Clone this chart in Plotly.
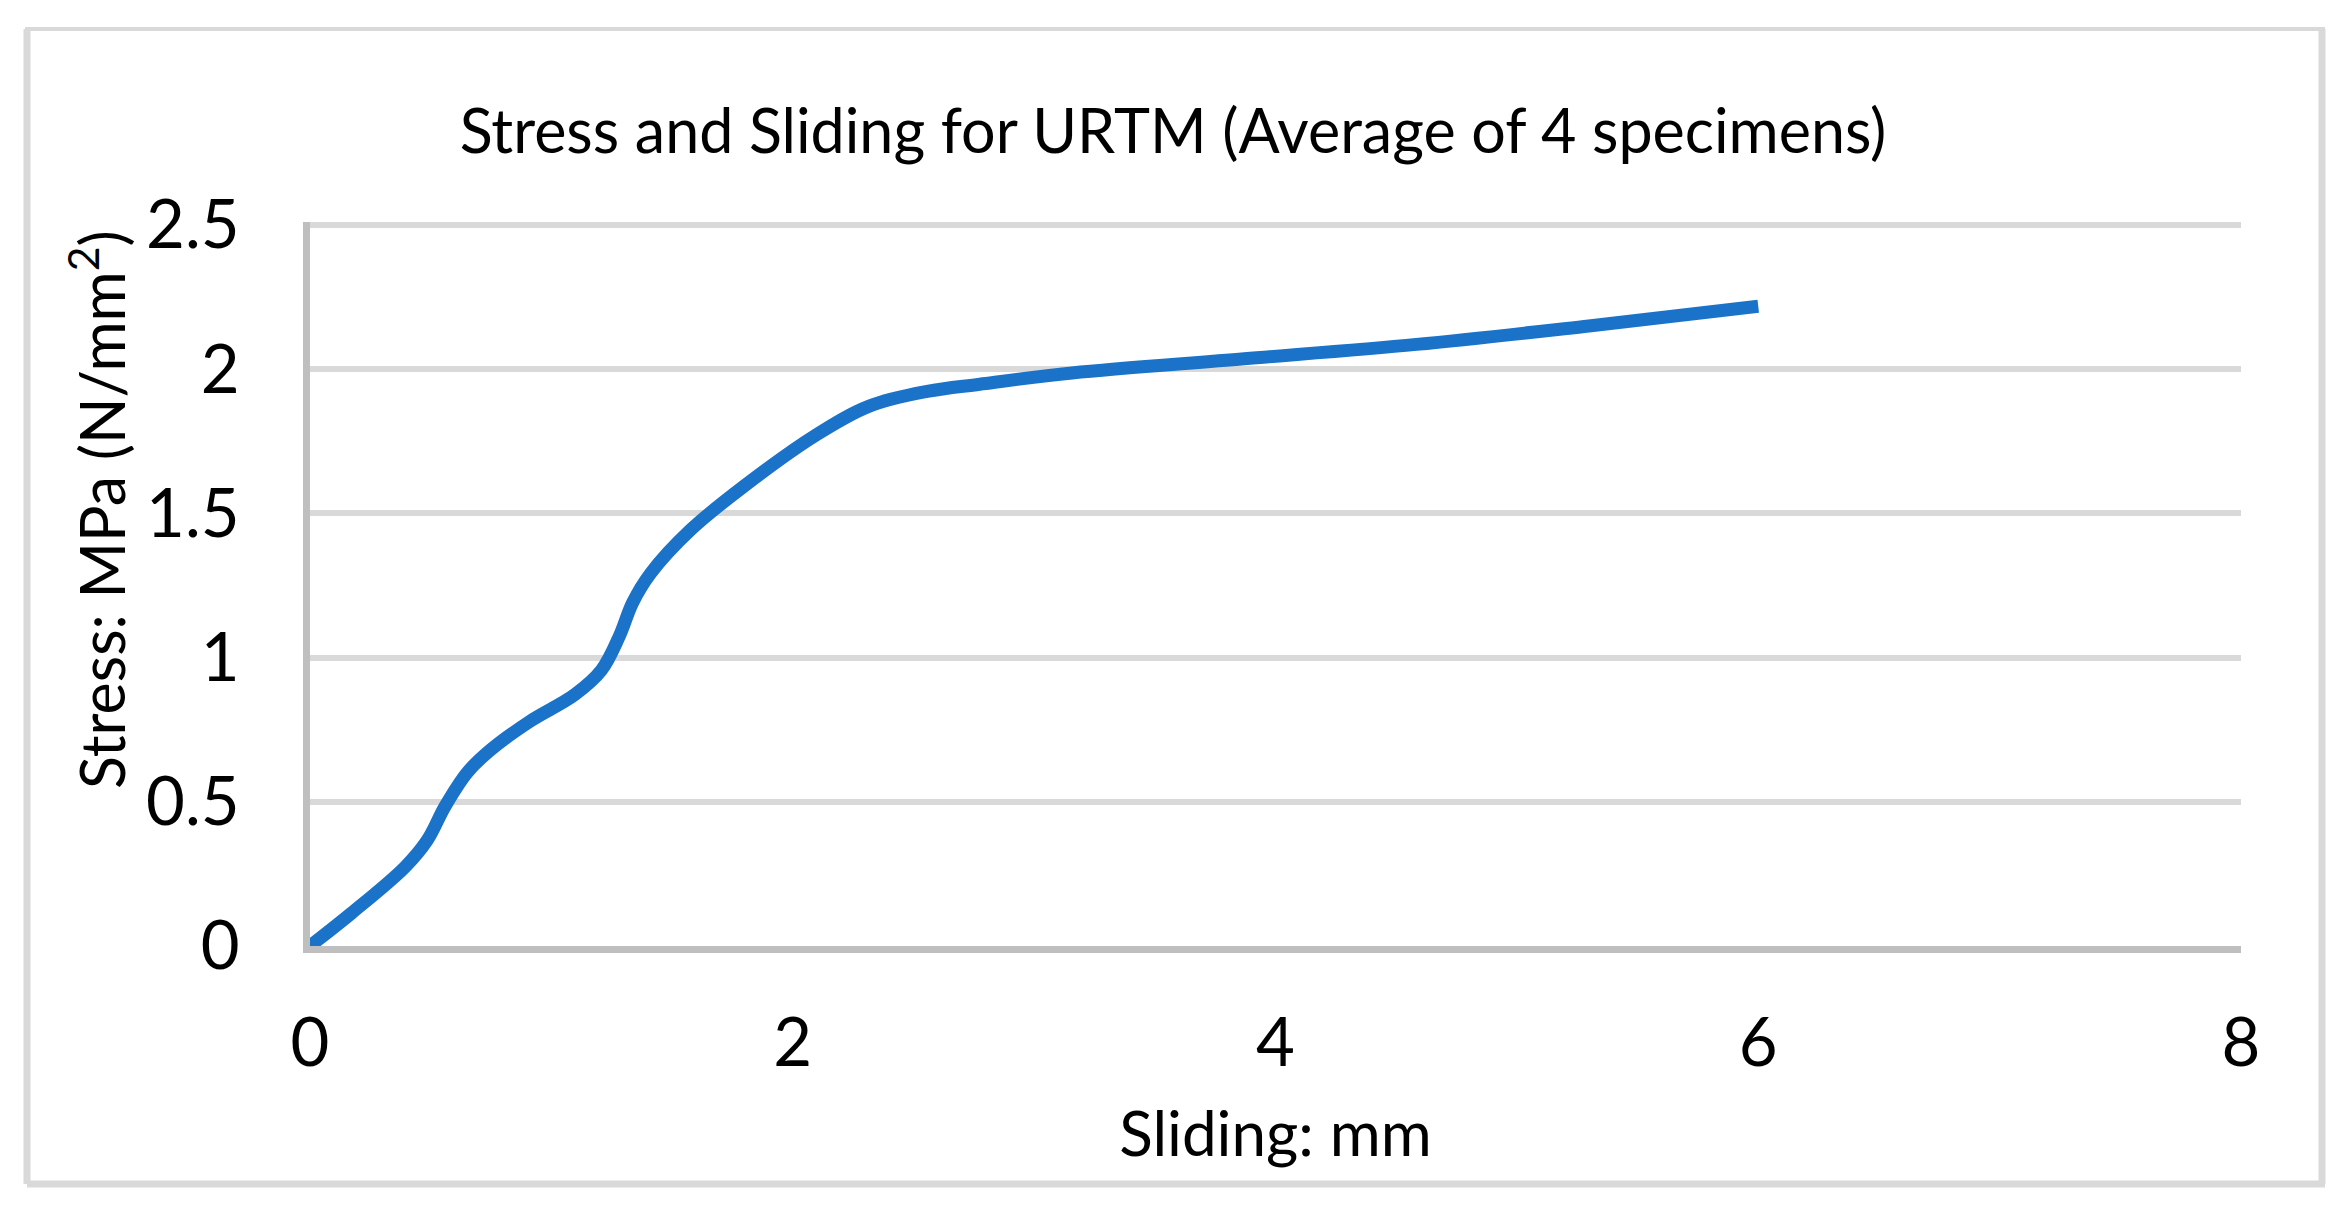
import plotly.graph_objects as go

# ---- data ----
sliding_mm = [0, 0.172, 0.394, 0.486, 0.56, 0.652, 0.745, 0.911, 1.096, 1.207, 1.281,
              1.337, 1.411, 1.577, 1.799, 2.095, 2.317, 2.557, 2.775, 3.157, 3.871,
              4.584, 5.298, 6.0]
stress_mpa = [0, 0.114, 0.274, 0.367, 0.485, 0.602, 0.678, 0.779, 0.871, 0.956, 1.073,
              1.191, 1.292, 1.443, 1.595, 1.771, 1.872, 1.923, 1.948, 1.987, 2.036,
              2.086, 2.150, 2.218]

x_tickvals = [0, 2, 4, 6, 8]
x_ticktext = ["0", "2", "4", "6", "8"]
y_tickvals = [0, 0.5, 1, 1.5, 2, 2.5]
y_ticktext = ["0", "0.5", "1", "1.5", "2", "2.5"]

title_text = "Stress and Sliding for URTM (Average of 4 specimens)"
x_title = "Sliding: mm"
y_title = "Stress: MPa (N/mm<sup>2</sup>)"

# ---- layout geometry (pixels in the target picture) ----
OFF = 8                      # page body margin added by the browser
W, H = 2350 - OFF, 1219 - OFF
PLOT_L, PLOT_R, PLOT_T, PLOT_B = 310, 2241, 225, 946
Y_MAX = 2.5
Y_PAD = 3                    # keep the 2.5 gridline just inside the plot area
ML = PLOT_L - OFF
MR = W - (PLOT_R - OFF)
MT = PLOT_T - OFF - Y_PAD
MB = H - (PLOT_B - OFF)
PW, PH = W - ML - MR, H - MT - MB
y_top = Y_MAX * (PH / (PH - Y_PAD))

FONT = "Lato"
LINE_BLUE = "#1A73C8"
GRID = "#D9D9D9"
AXIS = "#BFBFBF"

fig = go.Figure()
fig.add_trace(go.Scatter(
    x=sliding_mm, y=stress_mpa, mode="lines",
    line=dict(color=LINE_BLUE, width=13, shape="spline", smoothing=1.0),
    showlegend=False, hoverinfo="x+y",
))

def px_to_paper_x(px):
    return (px - OFF - ML) / PW

def px_to_paper_y(py):
    return (H - MB - (py - OFF)) / PH

def border_line(x0, y0, x1, y1, w):
    return dict(type="line", xref="paper", yref="paper",
                x0=px_to_paper_x(x0), y0=px_to_paper_y(y0),
                x1=px_to_paper_x(x1), y1=px_to_paper_y(y1),
                line=dict(color=GRID, width=w), layer="below")

BL, BR, BT, BB = 27, 2322, 29, 1184

fig.update_layout(
    width=W, height=H,
    margin=dict(l=ML, r=MR, t=MT, b=MB, autoexpand=False),
    paper_bgcolor="white", plot_bgcolor="white",
    font=dict(family=FONT, color="black"),
    title=dict(text=title_text, x=(1173 - OFF) / W, xref="container", xanchor="center",
               y=1 - (132 - OFF) / H, yref="container", yanchor="middle",
               font=dict(family=FONT, size=61, color="black")),
    xaxis=dict(
        range=[0, 8], tickvals=x_tickvals, ticktext=x_ticktext,
        showgrid=False, zeroline=False,
        showline=True, linecolor=AXIS, linewidth=7,
        ticks="", ticklabelstandoff=33,
        tickfont=dict(family=FONT, size=67, color="black"),
        title=dict(text=x_title, font=dict(family=FONT, size=62, color="black"), standoff=36),
        automargin=False, fixedrange=True,
    ),
    yaxis=dict(
        range=[0, y_top], tickvals=y_tickvals, ticktext=y_ticktext,
        showgrid=True, gridcolor=GRID, gridwidth=6, zeroline=False,
        showline=True, linecolor=AXIS, linewidth=7,
        ticks="", ticklabelstandoff=50,
        tickfont=dict(family=FONT, size=67, color="black"),
        automargin=False, fixedrange=True,
    ),
    annotations=[dict(
        text=y_title, textangle=-90, showarrow=False,
        xref="paper", yref="paper",
        x=px_to_paper_x(97), y=px_to_paper_y(510),
        xanchor="center", yanchor="middle",
        font=dict(family=FONT, size=61, color="black"),
    )],
    shapes=[
        border_line(BL - 2, BT, BR + 3, BT, 4),
        border_line(BL, BT, BL, BB, 7),
        border_line(BR, BT, BR, BB, 7),
        border_line(BL, BB, BR + 3, BB, 7),
    ],
)

fig.write_html("out.html")
